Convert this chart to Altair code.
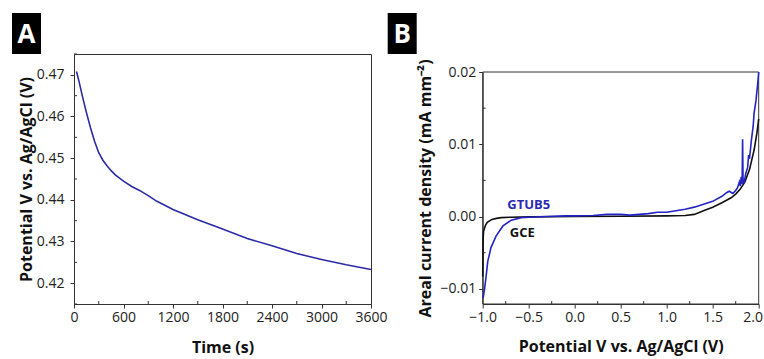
import altair as alt
import pandas as pd

# ---------------- Panel A data ----------------
time_s = [30, 60, 100, 150, 200, 250, 300, 350, 400, 450, 500, 600, 700, 800,
          900, 1000, 1200, 1500, 1800, 2100, 2400, 2700, 3000, 3300, 3600]
potential_a = [0.4708, 0.4685, 0.4650, 0.4610, 0.4573, 0.4540, 0.4513, 0.4495,
               0.4482, 0.4470, 0.4460, 0.4445, 0.4432, 0.4422, 0.4410, 0.4397,
               0.4377, 0.4352, 0.4330, 0.4307, 0.4290, 0.4271, 0.4257, 0.4244,
               0.4233]

# ---------------- Panel B data ----------------
gce_v = [-1.0, -0.995, -0.99, -0.97, -0.95, -0.9, -0.85, -0.8, -0.7, -0.5, 0.0,
         0.5, 1.0, 1.2, 1.3, 1.4, 1.5, 1.6, 1.7, 1.75, 1.8, 1.85, 1.9, 1.95,
         1.98, 2.0]
gce_j = [-0.0083, -0.0030, -0.0020, -0.0012, -0.0008, -0.0004, -0.00025,
         -0.00015, -0.0001, -0.00005, 0.0, 0.00005, 0.0001, 0.00015, 0.0003,
         0.0008, 0.0013, 0.0019, 0.0026, 0.0031, 0.0038, 0.0048, 0.0065,
         0.0092, 0.0115, 0.0135]

gtub_v = [-0.995, -0.98, -0.965, -0.945, -0.91, -0.855, -0.78, -0.69, -0.58,
          -0.5, -0.3, -0.1, 0.0, 0.2, 0.35, 0.5, 0.6, 0.8, 0.9, 1.0, 1.1, 1.2,
          1.3, 1.4, 1.5, 1.6, 1.65, 1.68, 1.72, 1.75, 1.77, 1.79, 1.80, 1.81,
          1.82, 1.825, 1.83, 1.84, 1.86, 1.88, 1.89, 1.9, 1.92, 1.94, 1.95,
          1.97, 1.99, 2.0]
gtub_j = [-0.0113, -0.0100, -0.0085, -0.0062, -0.0043, -0.0027, -0.0013,
          -0.0005, -0.00015, -0.0001, 0.0, 0.0001, 0.0001, 0.00015, 0.0003,
          0.0003, 0.0002, 0.0004, 0.0006, 0.0006, 0.0008, 0.0010, 0.0013,
          0.0017, 0.0021, 0.0028, 0.0033, 0.0035, 0.0032, 0.0036, 0.0040,
          0.0048, 0.0042, 0.0055, 0.0045, 0.0107, 0.0050, 0.0046, 0.0060,
          0.0068, 0.0085, 0.0080, 0.0105, 0.0125, 0.0143, 0.0160, 0.0185,
          0.0200]

label_text = ["GTUB5", "GCE"]
label_v = [-0.50, -0.57]
label_j = [0.0016, -0.0023]
label_color = ["#2a2ab4", "#111111"]

a_ticks = [0, 600, 1200, 1800, 2400, 3000, 3600]
a_minor = [300, 900, 1500, 2100, 2700, 3300]
a_yticks = [0.42, 0.43, 0.44, 0.45, 0.46, 0.47]
a_yminor = [0.415, 0.425, 0.435, 0.445, 0.455, 0.465, 0.475]
b_ticks = [-1.0, -0.5, 0.0, 0.5, 1.0, 1.5, 2.0]
b_minor = [-0.75, -0.25, 0.25, 0.75, 1.25, 1.75]
b_yticks = [-0.01, 0.0, 0.01, 0.02]
b_yminor = [-0.005, 0.005, 0.015]

FONT = "Open Sans"
BLUE_A = "#2b2ba6"
BLUE_B = "#2424c4"
AX = "#333333"

WA, HA = 297, 250
WB, HB = 276, 250
B_TOP = 18          # panel B plot frame starts lower than panel A's

# ---------------- Panel A ----------------
scAx = alt.Scale(domain=[0, 3600], nice=False, zero=False)
scAy = alt.Scale(domain=[0.415, 0.475], nice=False, zero=False)
axAx = alt.Axis(values=a_ticks, title="Time (s)", format="d", titlePadding=15)
axAy = alt.Axis(values=a_yticks, title="Potential V vs. Ag/AgCl (V)",
                format=".2f", titlePadding=2, labelPadding=6)

dfA = pd.DataFrame({"t": time_s, "v": potential_a})
lineA = alt.Chart(dfA).mark_line(color=BLUE_A, strokeWidth=1.6).encode(
    x=alt.X("t:Q", scale=scAx, axis=axAx),
    y=alt.Y("v:Q", scale=scAy, axis=axAy))

minAx = alt.Chart(pd.DataFrame({"t": a_minor})).mark_rule(color=AX).encode(
    x=alt.X("t:Q", scale=scAx, axis=axAx), y=alt.value(HA - 3), y2=alt.value(HA))
minAy = alt.Chart(pd.DataFrame({"v": a_yminor})).mark_rule(color=AX).encode(
    y=alt.Y("v:Q", scale=scAy, axis=axAy), x=alt.value(0), x2=alt.value(3))

boxA_df = pd.DataFrame({"p": ["A"]})
boxA = alt.Chart(boxA_df).mark_rect(color="black").encode(
    x=alt.value(-62), x2=alt.value(-33), y=alt.value(-41), y2=alt.value(0))
letterA = alt.Chart(boxA_df).mark_text(
    color="white", font=FONT, fontSize=26, fontWeight="bold",
    align="center", baseline="middle").encode(
    x=alt.value(-47.5), y=alt.value(-19), text="p:N")

panelA = alt.layer(lineA, minAx, minAy, boxA, letterA).properties(
    width=WA, height=HA)

# ---------------- Panel B ----------------
scBx = alt.Scale(domain=[-1.0, 2.0], nice=False, zero=False)
scBy = alt.Scale(domain=[-0.0121, 0.02], nice=False, zero=False,
                 range=[HB, B_TOP])
axBx = alt.Axis(values=b_ticks, title="Potential V vs. Ag/AgCl (V)",
                format=".1f", titlePadding=14,
                labelOffset={"condition": {"test": "datum.value >= 2",
                                           "value": -6},
                             "value": 0})
axBy = alt.Axis(values=b_yticks, title="Areal current density (mA mm⁻²)",
                format=".2f", titlePadding=7, labelPadding=3)

dfB = pd.concat([
    pd.DataFrame({"V": gce_v, "J": gce_j, "s": "GCE", "i": range(len(gce_v))}),
    pd.DataFrame({"V": gtub_v, "J": gtub_j, "s": "GTUB5", "i": range(len(gtub_v))}),
])
lineB = alt.Chart(dfB).mark_line(strokeWidth=1.6).encode(
    x=alt.X("V:Q", scale=scBx, axis=axBx),
    y=alt.Y("J:Q", scale=scBy, axis=axBy),
    order="i:Q", detail="s:N",
    color=alt.Color("s:N", scale=alt.Scale(domain=["GCE", "GTUB5"],
                                           range=["#111111", BLUE_B]),
                    legend=None))
minBx = alt.Chart(pd.DataFrame({"V": b_minor})).mark_rule(color=AX).encode(
    x=alt.X("V:Q", scale=scBx, axis=axBx), y=alt.value(HB - 3), y2=alt.value(HB))
minBy = alt.Chart(pd.DataFrame({"J": b_yminor})).mark_rule(color=AX).encode(
    y=alt.Y("J:Q", scale=scBy, axis=axBy), x=alt.value(0), x2=alt.value(3))

dfLab = pd.DataFrame({"V": label_v, "J": label_j, "txt": label_text,
                      "c": label_color})
labels = alt.Chart(dfLab).mark_text(font=FONT, fontSize=13, fontWeight="bold",
                                    align="center", baseline="middle").encode(
    x=alt.X("V:Q", scale=scBx, axis=axBx),
    y=alt.Y("J:Q", scale=scBy, axis=axBy),
    text="txt:N", color=alt.Color("c:N", scale=None))

boxB_df = pd.DataFrame({"p": ["B"]})
frameB = alt.Chart(boxB_df).mark_rect(fillOpacity=0, stroke=AX,
                                      strokeWidth=1).encode(
    x=alt.value(0), x2=alt.value(WB), y=alt.value(B_TOP), y2=alt.value(HB))
boxB = alt.Chart(boxB_df).mark_rect(color="black").encode(
    x=alt.value(-95), x2=alt.value(-66), y=alt.value(-41), y2=alt.value(0))
letterB = alt.Chart(boxB_df).mark_text(
    color="white", font=FONT, fontSize=26, fontWeight="bold",
    align="center", baseline="middle").encode(
    x=alt.value(-80.5), y=alt.value(-19), text="p:N")

panelB = alt.layer(frameB, lineB, minBx, minBy, labels, boxB, letterB).properties(
    width=WB, height=HB, view=alt.ViewBackground(stroke=None, strokeWidth=0))

chart = alt.hconcat(panelA, panelB, spacing=111.7, bounds="flush").properties(
    padding={"left": 11, "top": 12, "right": 0, "bottom": 0},
    background="white"
).configure_view(stroke=AX, strokeWidth=1).configure_axis(
    labelFont=FONT, labelFontSize=14, labelColor="#222", labelFlush=False,
    titleFont=FONT, titleFontSize=16, titleFontWeight="bold", titleColor="#111",
    tickColor=AX, domainColor=AX, tickSize=4, grid=False
)

chart.save("out.html", embed_options={"renderer": "svg", "actions": False})
